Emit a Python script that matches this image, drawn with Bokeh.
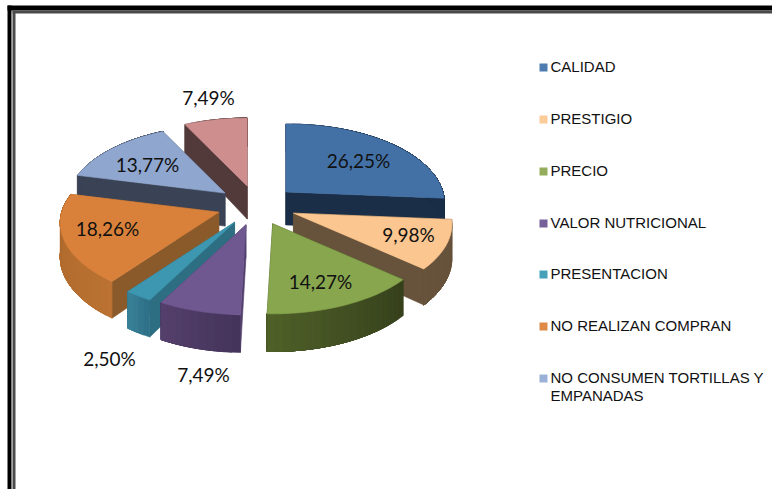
import math
from bokeh.plotting import figure
from bokeh.models import Range1d
from bokeh.core.properties import value
from bokeh.embed import file_html
from bokeh.resources import INLINE

categories = ["CALIDAD", "PRESTIGIO", "PRECIO", "VALOR NUTRICIONAL", "PRESENTACION",
              "NO REALIZAN COMPRAN", "NO CONSUMEN TORTILLAS Y\nEMPANADAS"]
shares = [26.25, 9.98, 14.27, 7.49, 2.50, 18.26, 13.77, 7.49]

top_colors = ["#4371a6", "#fbc68f", "#88a64e", "#6f5890", "#3e97b0", "#d9813b", "#8fa6cf", "#cf8e8e"]
cut_colors = ["#1a2e47", "#67523b", "#3a441e", "#54406e", "#2d6e82", "#8b5a2b", "#3a4355", "#533a3a"]
wall_colors = [("#1a2e47", "#1a2e47"), ("#67523b", "#67523b"), ("#35401c", "#4f6028"),
               ("#43335a", "#55406c"), ("#2c6f86", "#3a8299"), ("#bb7232", "#ab672c"),
               ("#3a4355", "#3a4355"), ("#533a3a", "#533a3a")]
legend_colors = ["#4f7cb0", "#fccb9a", "#93ad5a", "#75609a", "#45a0b8", "#de8b48", "#9bb0d6"]
legend_y = [67, 119, 171, 223, 274, 326, 378]
label_xy = [(358, 160), (408, 234), (320, 281), (203, 374), (109, 358), (107, 228), (147, 164), (208, 97)]
draw_order = [7, 6, 0, 1, 5, 4, 3, 2]

CX, CY, RX, RY, EX, EY, PERSP, DEPTH = 256, 205, 157, 79, 40, 20, 0.14, 33

p = figure(width=772, height=489, output_backend="svg", toolbar_location=None,
           x_range=Range1d(0, 772), y_range=Range1d(489, 0), min_border=0,
           outline_line_color=None)
p.xaxis.visible = False
p.yaxis.visible = False
p.grid.visible = False
p.background_fill_color = "white"
p.border_fill_color = "white"


def mix(a, b, t):
    ca = [int(a[i:i + 2], 16) for i in (1, 3, 5)]
    cb = [int(b[i:i + 2], 16) for i in (1, 3, 5)]
    return "#%02x%02x%02x" % tuple(round(x + (y - x) * t) for x, y in zip(ca, cb))


def poly(xs, ys, color):
    p.patch(xs, ys, fill_color=color, line_color=color, line_width=0.6)


total = sum(shares)
starts = []
acc = 0.0
for s in shares:
    starts.append(acc / total * 2 * math.pi)
    acc += s

for i in draw_order:
    a0 = starts[i]
    a1 = a0 + shares[i] / total * 2 * math.pi
    mid = (a0 + a1) / 2
    ax = CX + EX * math.sin(mid)
    ay = CY - EY * math.cos(mid)
    n = max(4, int((a1 - a0) / math.radians(2.5)))
    th = [a0 + (a1 - a0) * k / n for k in range(n + 1)]
    rim = []
    for t in th:
        q = 1 - PERSP * math.cos(t)
        rim.append((ax + RX * math.sin(t) * q, ay - RY * math.cos(t) * q, DEPTH * q))
    for r in (rim[0], rim[-1]):
        poly([ax, r[0], r[0], ax], [ay, r[1], r[1] + r[2], ay + DEPTH], cut_colors[i])
    for k in range(n):
        col = mix(wall_colors[i][0], wall_colors[i][1], (k + 0.5) / n)
        rest = rim[k:]
        poly([r[0] for r in rest] + [r[0] for r in reversed(rest)],
             [r[1] for r in rest] + [r[1] + r[2] for r in reversed(rest)], col)
    poly([ax] + [r[0] for r in rim], [ay] + [r[1] for r in rim], top_colors[i])

frame = [("#000000", 7, 5, 11, 10), ("#4a4a4a", 12, 10, 15, 13)]
for col, x0, y0, x1, y1 in frame:
    p.quad(left=x0, right=x1, top=y0, bottom=489, fill_color=col, line_color=None)
    p.quad(left=x0, right=772, top=y0, bottom=y1, fill_color=col, line_color=None)

texts = [f"{s:.2f}".replace(".", ",") + "%" for s in shares]
p.text([q[0] for q in label_xy], [q[1] for q in label_xy], text=texts,
       text_font=value("Lato"), text_font_size="19px", text_color="#111111",
       text_align="center", text_baseline="middle")

for name, col, y in zip(categories, legend_colors, legend_y):
    p.quad(left=539, right=547, top=y - 4, bottom=y + 4, fill_color=col, line_color=None)
    for j, line in enumerate(name.split("\n")):
        p.text([550], [y - 1 + j * 18], text=[line], text_font=value("Liberation Sans"),
               text_font_size="15px", text_color="#111111", text_align="left",
               text_baseline="middle")

open("out.html", "w").write(file_html(p, INLINE))
